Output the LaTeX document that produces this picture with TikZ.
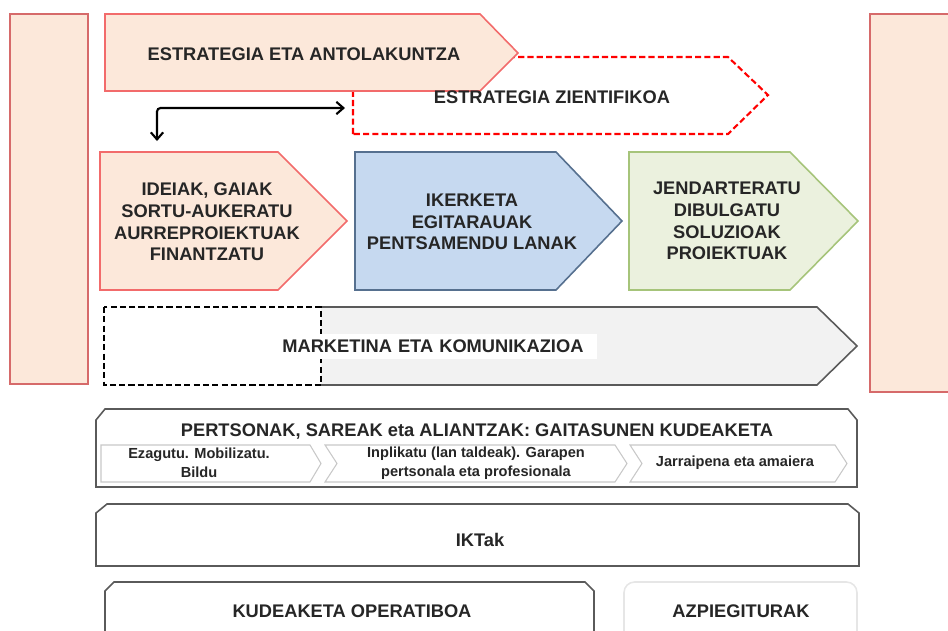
\documentclass[tikz,border=0pt]{standalone}
\usepackage{fontspec}
\setmainfont{Liberation Sans}
\usetikzlibrary{arrows.meta}

\definecolor{peach}{HTML}{FCE8DA}
\definecolor{peachline}{HTML}{F26B6B}
\definecolor{barline}{HTML}{D66A6A}
\definecolor{bluefill}{HTML}{C6D9F0}
\definecolor{blueline}{HTML}{56708F}
\definecolor{greenfill}{HTML}{EBF1DE}
\definecolor{greenline}{HTML}{A6C47A}
\definecolor{mktfill}{HTML}{F2F2F2}
\definecolor{darkline}{HTML}{5A5A5A}
\definecolor{paleline}{HTML}{C8C8C8}
\definecolor{faintline}{HTML}{E6E6E6}

\begin{document}
\begin{tikzpicture}[x=0.02cm,y=-0.02cm,
  bigtxt/.style={font=\bfseries\fontsize{10.4}{12.4}\selectfont,align=center,text=black!85},
  smalltxt/.style={font=\bfseries\fontsize{8.3}{10.6}\selectfont,align=center,text=black!85},
  sidebar/.style={draw=barline,fill=peach,line width=1pt},
  orangebox/.style={draw=peachline,fill=peach,line width=0.9pt},
  bluebox/.style={draw=blueline,fill=bluefill,line width=0.9pt},
  greenbox/.style={draw=greenline,fill=greenfill,line width=0.9pt},
  graybox/.style={draw=darkline,fill=white,line width=0.9pt},
  subarrow/.style={draw=paleline,fill=white,line width=0.6pt},
  dashline/.style={dash pattern=on 3.5pt off 1.8pt,line width=1.2pt},
  linkarrow/.style={{Straight Barb[length=4pt,width=7pt]}-{Straight Barb[length=4pt,width=7pt]},line width=1.2pt,rounded corners=2pt}]
\useasboundingbox (0,0) rectangle (948,630);

% side bars
\draw[sidebar] (10,14) rectangle (88,384);
\draw[sidebar] (870,14) rectangle (960,392);

% strategy
\draw[red,dashline] (353,134) -- (353,57) -- (728,57) -- (768,95) -- (728,134) -- cycle;
\draw[orangebox] (105,14) -- (480,14) -- (518,53) -- (480,91) -- (105,91) -- cycle;
\node[bigtxt] (estrat) at (304,54) {ESTRATEGIA ETA ANTOLAKUNTZA};
\node[bigtxt] (zient) at (552,97) {ESTRATEGIA ZIENTIFIKOA};

\coordinate (down) at (157,141);
\coordinate (right) at (345,108);
\draw[linkarrow] (down) |- (right);

% process
\draw[orangebox] (100,152) -- (278,152) -- (347,221) -- (278,290) -- (100,290) -- cycle;
\draw[bluebox] (355,152) -- (556,152) -- (622,221) -- (556,290) -- (355,290) -- cycle;
\draw[greenbox] (629,152) -- (790,152) -- (858,221) -- (790,290) -- (629,290) -- cycle;
\node[bigtxt] (ideiak) at (207,222) {IDEIAK, GAIAK\\SORTU-AUKERATU\\AURREPROIEKTUAK\\FINANTZATU};
\node[bigtxt] (ikerketa) at (472,222) {IKERKETA\\EGITARAUAK\\PENTSAMENDU LANAK};
\node[bigtxt] (jendar) at (727,221) {JENDARTERATU\\DIBULGATU\\SOLUZIOAK\\PROIEKTUAK};

% marketing
\fill[mktfill] (321,307) -- (817,307) -- (857,346) -- (817,385) -- (321,385) -- cycle;
\draw[darkline,line width=0.9pt] (321,307) -- (817,307) -- (857,346) -- (817,385) -- (321,385);
\draw[black,dashline,line width=1pt] (104,307) rectangle (321,385);
\node[bigtxt,anchor=west,fill=white,inner xsep=0pt,minimum height=0.5cm,text width=6.3cm,align=left] (mkt) at (282,346) {MARKETINA ETA KOMUNIKAZIOA};

% people
\draw[graybox] (96,487) -- (96,420) -- (105,409) -- (848,409) -- (857,420) -- (857,487) -- cycle;
\node[bigtxt] (pertsonak) at (477,432) {PERTSONAK, SAREAK eta ALIANTZAK: GAITASUNEN KUDEAKETA};
\draw[subarrow] (101,445) -- (310,445) -- (321,463.5) -- (310,482) -- (101,482) -- cycle;
\draw[subarrow] (325,445) -- (615,445) -- (627,463.5) -- (615,482) -- (325,482) -- (337,463.5) -- cycle;
\draw[subarrow] (630,445) -- (835,445) -- (847,463.5) -- (835,482) -- (630,482) -- (642,463.5) -- cycle;
\node[smalltxt] (ezagutu) at (199,463) {Ezagutu. Mobilizatu.\\Bildu};
\node[smalltxt] (inplikatu) at (476,463) {Inplikatu (lan taldeak). Garapen\\pertsonala eta profesionala};
\node[smalltxt] (jarraipena) at (735,463) {Jarraipena eta amaiera};

% ICT and base
\draw[graybox] (96,566) -- (96,513) -- (107,504) -- (848,504) -- (859,513) -- (859,566) -- cycle;
\node[bigtxt] (iktak) at (480,540) {IKTak};
\draw[graybox] (105,645) -- (105,591) -- (114,582) -- (585,582) -- (594,591) -- (594,645);
\node[bigtxt] (kudeaketa) at (352,611) {KUDEAKETA OPERATIBOA};
\draw[faintline,line width=0.9pt,rounded corners=6pt] (624,645) -- (624,582) -- (857,582) -- (857,645);
\node[bigtxt] (azpi) at (741,611) {AZPIEGITURAK};
\end{tikzpicture}
\end{document}
